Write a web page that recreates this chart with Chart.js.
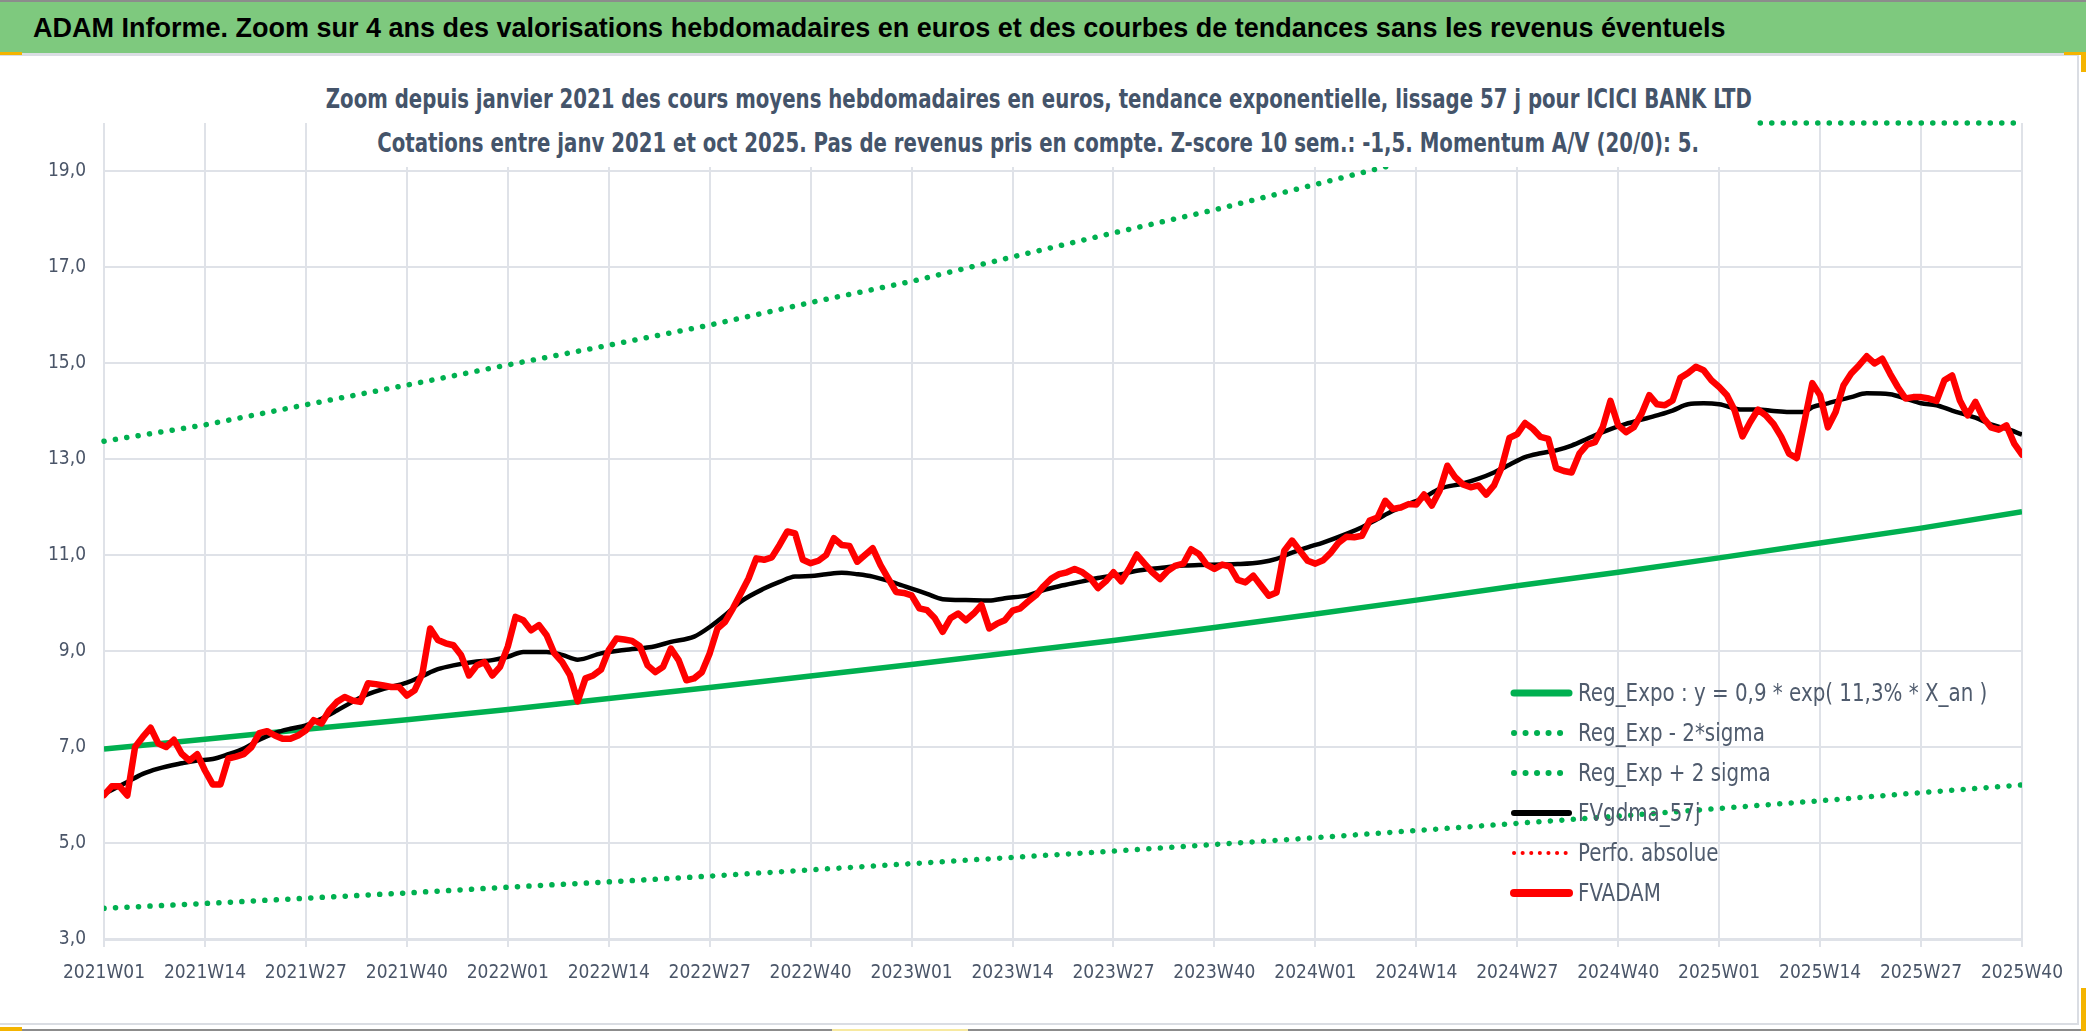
<!DOCTYPE html>
<html lang="fr">
<head>
<meta charset="utf-8">
<title>ADAM Informe - ICICI BANK LTD</title>
<script src="https://cdn.jsdelivr.net/npm/chart.js@4.4.1/dist/chart.umd.min.js"></script>
<style>
    html, body { margin: 0; padding: 0; background: #fff; }
    #page { position: relative; width: 2086px; height: 1031px; overflow: hidden; background: #fff; }
    #graphique { position: absolute; left: 0; top: 0; }
    #bandeau {
        position: absolute; left: 0; top: 0; width: 2086px; height: 53px; box-sizing: border-box;
        background: #7ec97e; border-top: 2px solid #8c8c8c;
        font: bold 27px "Liberation Sans", Arial, sans-serif; color: #000;
        line-height: 52px; padding-left: 33px; white-space: nowrap;
    }
    #cadre {
        position: absolute; left: 0; top: 53px; width: 2079px; height: 972px; box-sizing: border-box;
        border-top: 3px solid #dadde3; border-right: 2px solid #dadde3; border-bottom: 2px solid #dadde3;
        pointer-events: none;
    }
    #basPage { position: absolute; left: 0; top: 1029px; width: 2086px; height: 2px; background: #8c8c8c; }
    .poignee { position: absolute; background: #f4b400; }
    #titre {
        position: absolute; left: 320px; top: 77px; width: 1437px; padding-bottom: 2px;
        background: #fff; color: #44546a;
        font: bold 26px "DejaVu Sans Condensed", "Liberation Sans", sans-serif;
        line-height: 44px; white-space: nowrap;
    }
    #titre .ligne { display: flex; justify-content: center; }
    #titre .ligne span { display: inline-block; transform: scaleX(0.844); transform-origin: center; }
    #legende {
        position: absolute; left: 1507px; top: 673px; color: #4f5b6d;
        font: 24px "DejaVu Sans Condensed", "Liberation Sans", sans-serif;
    }
    .item { display: flex; align-items: center; height: 40px; white-space: nowrap; }
    .item svg { margin-right: 5px; }
    .item span { display: inline-block; transform: scaleX(0.92); transform-origin: left center; }
</style>
</head>
<body>
<div id="page">
    <canvas id="graphique" width="2086" height="1031"></canvas>
    <div id="cadre"></div>
    <div id="bandeau">ADAM Informe. Zoom sur 4 ans des valorisations hebdomadaires en euros et des courbes de tendances sans les revenus éventuels</div>
    <div id="basPage"></div>
    <div class="poignee" style="left:0;top:52px;width:22px;height:3px"></div>
    <div class="poignee" style="left:2064px;top:52px;width:22px;height:3px"></div>
    <div class="poignee" style="left:2081px;top:52px;width:5px;height:20px"></div>
    <div class="poignee" style="left:0;top:1027px;width:22px;height:4px"></div>
    <div class="poignee" style="left:2081px;top:988px;width:5px;height:43px"></div>
    <div class="poignee" style="left:832px;top:1029px;width:136px;height:2px;background:#f7e9a0"></div>
    <div id="titre">
        <div class="ligne"><span>Zoom depuis janvier 2021 des cours moyens hebdomadaires en euros, tendance exponentielle, lissage 57 j pour ICICI BANK LTD</span></div>
        <div class="ligne"><span>Cotations entre janv 2021 et oct 2025. Pas de revenus pris en compte. Z-score 10 sem.: -1,5. Momentum A/V (20/0): 5.</span></div>
    </div>
    <div id="legende"></div>
</div>

<script>
// axe des semaines : une étiquette toutes les 13 semaines (index 0 = 2021W01)
const semainesTicks = [0, 13, 26, 39, 52, 65, 78, 91, 104, 117, 130, 143, 156, 169, 182, 195, 208, 221, 234, 247]
const etiquettesTicks = [
    "2021W01", "2021W14", "2021W27", "2021W40",
    "2022W01", "2022W14", "2022W27", "2022W40",
    "2023W01", "2023W14", "2023W27", "2023W40",
    "2024W01", "2024W14", "2024W27", "2024W40",
    "2025W01", "2025W14", "2025W27", "2025W40"
]
const valeursAxeY = [3, 5, 7, 9, 11, 13, 15, 17, 19]

// FVADAM : cours moyen hebdomadaire, une valeur par semaine depuis 2021W01
const fvadam = [
    6.00, 6.18, 6.18, 5.99, 7.00, 7.21, 7.40, 7.07, 7.00, 7.15,
    6.86, 6.72, 6.85, 6.51, 6.22, 6.22, 6.76, 6.80, 6.85, 7.00,
    7.29, 7.33, 7.24, 7.17, 7.17, 7.24, 7.35, 7.56, 7.49, 7.76,
    7.94, 8.04, 7.97, 7.94, 8.33, 8.31, 8.28, 8.25, 8.25, 8.07,
    8.18, 8.53, 9.47, 9.23, 9.16, 9.12, 8.91, 8.49, 8.70, 8.77,
    8.49, 8.67, 9.09, 9.71, 9.64, 9.43, 9.54, 9.33, 8.95, 8.77,
    8.50, 7.95, 8.43, 8.49, 8.61, 9.02, 9.26, 9.24, 9.21, 9.10,
    8.70, 8.56, 8.67, 9.05, 8.81, 8.39, 8.43, 8.56, 8.95, 9.47,
    9.61, 9.89, 10.20, 10.51, 10.93, 10.90, 10.95, 11.21, 11.49, 11.45,
    10.90, 10.83, 10.88, 11.00, 11.35, 11.21, 11.19, 10.86, 11.00, 11.14,
    10.79, 10.51, 10.23, 10.21, 10.16, 9.89, 9.85, 9.68, 9.40, 9.68,
    9.78, 9.64, 9.78, 9.96, 9.47, 9.57, 9.64, 9.84, 9.89, 10.03,
    10.16, 10.35, 10.51, 10.60, 10.64, 10.71, 10.64, 10.52, 10.31, 10.45,
    10.64, 10.45, 10.71, 11.01, 10.82, 10.64, 10.50, 10.67, 10.78, 10.82,
    11.12, 11.02, 10.80, 10.71, 10.80, 10.76, 10.48, 10.43, 10.57, 10.36,
    10.15, 10.22, 11.09, 11.30, 11.09, 10.88, 10.82, 10.89, 11.05, 11.26,
    11.38, 11.37, 11.40, 11.72, 11.78, 12.13, 11.96, 11.99, 12.06, 12.05,
    12.26, 12.03, 12.34, 12.86, 12.62, 12.47, 12.41, 12.45, 12.26, 12.45,
    12.83, 13.44, 13.52, 13.75, 13.63, 13.46, 13.42, 12.81, 12.75, 12.72,
    13.11, 13.30, 13.35, 13.66, 14.21, 13.70, 13.56, 13.66, 13.94, 14.33,
    14.14, 14.12, 14.22, 14.69, 14.79, 14.92, 14.85, 14.64, 14.50, 14.33,
    14.01, 13.47, 13.77, 14.03, 13.91, 13.73, 13.46, 13.11, 13.02, 13.80,
    14.58, 14.33, 13.66, 13.98, 14.53, 14.78, 14.95, 15.14, 14.99, 15.09,
    14.78, 14.50, 14.26, 14.29, 14.29, 14.26, 14.21, 14.64, 14.74, 14.22,
    13.91, 14.19, 13.86, 13.66, 13.61, 13.70, 13.32, 13.09
]

// FVgdma_57j (lissage), relevé toutes les 2-3 semaines
const lissageSemaines = [
    0, 3, 5, 7, 10, 12, 14, 16, 18, 20, 22, 24, 26, 28, 30, 32, 34, 36, 39, 41,
    43, 45, 48, 50, 52, 54, 57, 59, 61, 64, 67, 71, 73, 76, 78, 80, 82, 85, 87, 89,
    91, 93, 95, 97, 99, 102, 104, 106, 108, 111, 114, 116, 119, 121, 123, 126, 128, 131, 133, 136,
    139, 141, 144, 146, 149, 151, 153, 155, 157, 160, 162, 164, 166, 168, 170, 172, 175, 177, 179, 181,
    183, 185, 187, 189, 191, 193, 196, 198, 200, 202, 204, 206, 208, 211, 213, 215, 217, 219, 220, 222,
    225, 227, 230, 232, 234, 236, 238, 241, 243, 245, 247
]
const lissageValeurs = [
    6.02, 6.27, 6.44, 6.55, 6.66, 6.72, 6.75, 6.85, 6.97, 7.15, 7.29, 7.38, 7.45, 7.59, 7.76, 7.94, 8.10, 8.21, 8.34, 8.48,
    8.62, 8.70, 8.78, 8.81, 8.88, 8.98, 8.98, 8.92, 8.82, 8.95, 9.02, 9.10, 9.19, 9.30, 9.50, 9.75, 10.03, 10.30, 10.44, 10.55,
    10.56, 10.60, 10.63, 10.60, 10.55, 10.41, 10.30, 10.19, 10.08, 10.06, 10.05, 10.10, 10.16, 10.27, 10.35, 10.45, 10.52, 10.60, 10.67, 10.73,
    10.78, 10.79, 10.80, 10.81, 10.85, 10.92, 11.05, 11.16, 11.26, 11.44, 11.58, 11.75, 11.92, 12.06, 12.20, 12.38, 12.49, 12.59, 12.72, 12.88,
    13.04, 13.12, 13.18, 13.28, 13.42, 13.56, 13.73, 13.82, 13.91, 14.01, 14.14, 14.16, 14.14, 14.03, 14.03, 14.00, 13.98, 13.98, 14.08, 14.16,
    14.29, 14.37, 14.35, 14.26, 14.16, 14.12, 14.01, 13.86, 13.72, 13.63, 13.51
]

// tendance exponentielle et bandes +/- 2 sigma, relevées à chaque étiquette
const regExpo = [6.96, 7.16, 7.37, 7.57, 7.78, 8.01, 8.24, 8.48, 8.72, 8.97, 9.22, 9.49, 9.77, 10.06, 10.36, 10.64, 10.94, 11.25, 11.56, 11.90]
const regBasse = [3.64, 3.74, 3.85, 3.96, 4.08, 4.19, 4.31, 4.44, 4.57, 4.70, 4.83, 4.97, 5.11, 5.26, 5.41, 5.56, 5.72, 5.88, 6.05, 6.21]
const regHaute = [13.37, 13.71, 14.13, 14.54, 14.96, 15.37, 15.79, 16.26, 16.70, 17.21, 17.71, 18.19, 18.72, 19.25, 19.80, 20, 20, 20, 20, 20]

const POLICE_AXE = '"DejaVu Sans Condensed", "Liberation Sans", sans-serif'
const couleurGrille = '#dfe2e8'
const couleurTexte = '#4a5568'

function enPoints(xs, ys) {
    return xs.map((x, i) => ({ x: x, y: ys[i] }))
}

const datasets = [
    {
        label: 'Reg_Expo : y = 0,9 * exp( 11,3% *  X_an )',
        data: enPoints(semainesTicks, regExpo),
        borderColor: '#00b050', borderWidth: 5.5, order: 2
    },
    {
        label: 'Reg_Exp - 2*sigma',
        data: enPoints(semainesTicks, regBasse),
        borderColor: '#00b050', borderWidth: 5.5, borderDash: [0.1, 11.4], borderCapStyle: 'round', order: 4
    },
    {
        label: 'Reg_Exp + 2 sigma',
        data: enPoints(semainesTicks, regHaute),
        borderColor: '#00b050', borderWidth: 5.5, borderDash: [0.1, 11.4], borderCapStyle: 'round', order: 5,
        clip: 8
    },
    {
        label: 'FVgdma_57j',
        data: enPoints(lissageSemaines, lissageValeurs),
        borderColor: '#000000', borderWidth: 4.5, cubicInterpolationMode: 'monotone', order: 1
    },
    {
        label: 'Perfo. absolue',
        data: [],
        borderColor: '#ff0000', borderWidth: 3.5, borderDash: [0.1, 8.5], borderCapStyle: 'round', order: 6
    },
    {
        label: 'FVADAM',
        data: fvadam.map((v, i) => ({ x: i, y: v })),
        borderColor: '#ff0000', borderWidth: 6.5, borderJoinStyle: 'round', borderCapStyle: 'round', order: 0
    }
]

// légende html placée dans la zone du graphique, comme dans Excel
const legendeHtml = {
    id: 'legendeHtml',
    afterUpdate(chart) {
        const boite = document.getElementById('legende')
        boite.innerHTML = ''
        chart.data.datasets.forEach((ds) => {
            const ligne = document.createElement('div')
            ligne.className = 'item'
            let trait = ds.borderDash ? 'stroke-dasharray="' + ds.borderDash.join(' ') + '"' : ''
            let epaisseur = ds.borderDash ? ds.borderWidth + 0.5 : ds.borderWidth + 1.5
            ligne.innerHTML = '<svg width="66" height="14"><line x1="7" y1="7" x2="62" y2="7" stroke="' + ds.borderColor +
                '" stroke-width="' + epaisseur + '" stroke-linecap="round" ' + trait + '/></svg><span>' + ds.label + '</span>'
            boite.appendChild(ligne)
        })
    }
}

const config = {
    type: 'line',
    data: { datasets: datasets },
    options: {
        responsive: false,
        animation: false,
        devicePixelRatio: 1,
        layout: { padding: { left: 0, top: 123, right: 64, bottom: 32 } },
        elements: { point: { radius: 0 }, line: { tension: 0 } },
        plugins: {
            legend: { display: false },
            tooltip: { enabled: false },
            title: { display: false }
        },
        scales: {
            x: {
                type: 'linear', min: 0, max: 247,
                afterBuildTicks: (axe) => { axe.ticks = semainesTicks.map(v => ({ value: v })) },
                afterFit: (axe) => { axe.height = 60 },
                ticks: {
                    autoSkip: false, maxRotation: 0, padding: 15,
                    color: couleurTexte, font: { family: POLICE_AXE, size: 19 },
                    callback: (v, i) => etiquettesTicks[i]
                },
                grid: { color: couleurGrille, lineWidth: 2, tickLength: 8 },
                border: { color: couleurGrille, width: 3 }
            },
            y: {
                min: 3, max: 20,
                afterBuildTicks: (axe) => { axe.ticks = valeursAxeY.map(v => ({ value: v })) },
                afterFit: (axe) => { axe.width = 104 },
                ticks: {
                    padding: 18, color: couleurTexte, font: { family: POLICE_AXE, size: 19 },
                    callback: (v) => Number(v).toFixed(1).replace('.', ',')
                },
                grid: { color: couleurGrille, lineWidth: 2, drawTicks: false },
                border: { display: false }
            }
        }
    },
    plugins: [legendeHtml]
}

let monGraphique = new Chart(document.getElementById('graphique'), config)
</script>
</body>
</html>
